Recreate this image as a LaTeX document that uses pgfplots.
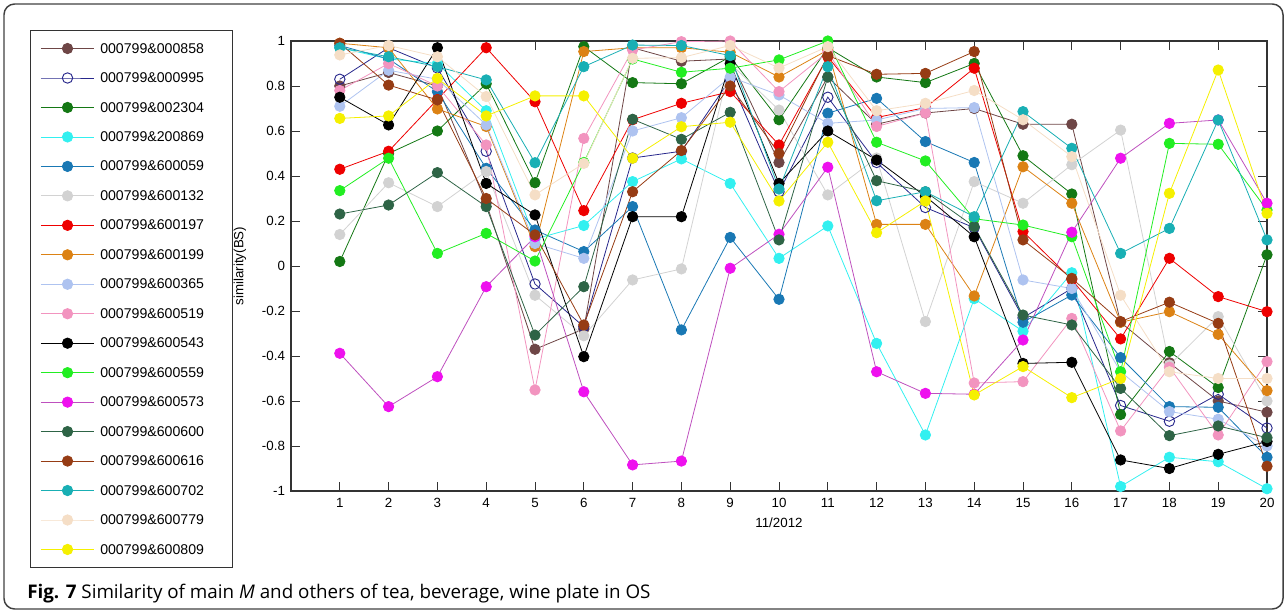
\documentclass[border=0pt]{standalone}
\usepackage{pgfplots}
\pgfplotsset{compat=1.18}
\usepackage{fontspec}
\setmainfont{Liberation Sans}
\newfontfamily\capfont{Open Sans}
\definecolor{c1}{RGB}{110,70,70}
\definecolor{c2}{RGB}{40,40,140}
\definecolor{c3}{RGB}{20,120,20}
\definecolor{c4}{RGB}{50,240,240}
\definecolor{c5}{RGB}{25,120,180}
\definecolor{c6}{RGB}{210,210,210}
\definecolor{c7}{RGB}{238,0,0}
\definecolor{c8}{RGB}{220,130,20}
\definecolor{c9}{RGB}{174,195,240}
\definecolor{c10}{RGB}{242,148,191}
\definecolor{c11}{RGB}{0,0,0}
\definecolor{c12}{RGB}{34,238,34}
\definecolor{c13}{RGB}{238,17,238}
\definecolor{c13l}{RGB}{190,80,190}
\definecolor{c14}{RGB}{46,100,70}
\definecolor{c15}{RGB}{150,60,20}
\definecolor{c16}{RGB}{25,175,180}
\definecolor{c17}{RGB}{245,222,198}
\definecolor{c18}{RGB}{245,240,0}
\begin{document}
\begin{tikzpicture}
\begin{scope}[x=0.75pt,y=0.75pt]
\path (0,0) rectangle (1287,613);
\draw[black!75, line width=1.1pt, rounded corners=8pt] (4,4) rectangle (1283,609);
\node[anchor=base west, inner sep=0pt, font=\capfont\fontsize{14.1}{16}\selectfont] at (27,14) {\textbf{Fig. 7} Similarity of main \textit{M} and others of tea, beverage, wine plate in OS};
\end{scope}
\begin{axis}[at={(218.25pt,91.5pt)}, anchor=south west, scale only axis,
  width=732pt, height=337.5pt,
  xmin=0, xmax=20, ymin=-1, ymax=1,
  xtick={1,...,20},
  ytick={-1,-0.8,-0.6,-0.4,-0.2,0,0.2,0.4,0.6,0.8,1},
  tick align=inside, major tick length=7pt,
  tick style={black!80, line width=0.6pt},
  axis line style={black!80, line width=0.8pt},
  /pgf/number format/assume math mode=true,
  /pgf/number format/fixed,
  ticklabel style={font=\fontsize{10}{12}\selectfont},
  xticklabel style={yshift=-2pt},
  yticklabel style={xshift=-1pt},
  xlabel={11/2012}, ylabel={similarity(BS)},
  label style={font=\fontsize{10}{12}\selectfont},
  xlabel style={at={(axis description cs:0.5,-0.0704)}, anchor=center},
  ylabel style={at={(axis description cs:-0.0523,0.5)}, anchor=center},
  clip=false,
  every axis plot/.append style={line width=0.6pt, mark=*, mark size=3.9pt},
  legend cell align=left,
  legend style={at={(axis description cs:-0.26742,1.02444)}, anchor=north west,
    draw=black!80, line width=0.7pt, inner xsep=0pt, inner ysep=2.5pt,
    font=\fontsize{10.6}{12}\selectfont, row sep=0pt,
    nodes={inner xsep=0pt, inner ysep=0pt, text height=14.5pt, text depth=7.6pt},
    /tikz/every odd column/.append style={column sep=4.25pt}},
  legend image code/.code={\path (0pt,0pt); \draw[#1, line width=0.6pt, mark repeat=2, mark phase=2] plot coordinates {(7.5pt,0pt) (27.5pt,0pt) (47.5pt,0pt)};},
]
\addplot[color=c1, mark options={fill=c1}] coordinates {(1,0.80)(2,0.86)(3,0.80)(4,0.28)(5,-0.37)(6,-0.28)(7,0.97)(8,0.91)(9,0.92)(10,0.46)(11,0.84)(12,0.63)(13,0.68)(14,0.70)(15,0.63)(16,0.63)(17,-0.25)(18,-0.43)(19,-0.60)(20,-0.65)};
\addlegendentry{\makebox[99pt][l]{000799\&000858}}
\addplot[color=c2, mark=o, mark options={line width=0.7pt}] coordinates {(1,0.83)(2,0.97)(3,0.88)(4,0.51)(5,-0.08)(6,-0.27)(7,0.48)(8,0.51)(9,0.83)(10,0.33)(11,0.75)(12,0.46)(13,0.26)(14,0.17)(15,-0.23)(16,-0.10)(17,-0.62)(18,-0.69)(19,-0.57)(20,-0.72)};
\addlegendentry{000799\&000995}
\addplot[color=c3, mark options={fill=c3}] coordinates {(1,0.02)(2,0.50)(3,0.60)(4,0.81)(5,0.37)(6,0.975)(7,0.815)(8,0.81)(9,0.93)(10,0.65)(11,0.97)(12,0.84)(13,0.815)(14,0.90)(15,0.49)(16,0.32)(17,-0.66)(18,-0.38)(19,-0.54)(20,0.05)};
\addlegendentry{000799\&002304}
\addplot[color=c4, mark options={fill=c4}] coordinates {(1,0.97)(2,0.92)(3,0.90)(4,0.69)(5,0.12)(6,0.18)(7,0.375)(8,0.476)(9,0.367)(10,0.034)(11,0.178)(12,-0.344)(13,-0.751)(14,-0.145)(15,-0.29)(16,-0.03)(17,-0.98)(18,-0.85)(19,-0.87)(20,-0.99)};
\addlegendentry{000799\&200869}
\addplot[color=c5, mark options={fill=c5}] coordinates {(1,0.98)(2,0.92)(3,0.775)(4,0.434)(5,0.16)(6,0.064)(7,0.264)(8,-0.284)(9,0.127)(10,-0.148)(11,0.679)(12,0.745)(13,0.553)(14,0.46)(15,-0.25)(16,-0.129)(17,-0.407)(18,-0.625)(19,-0.628)(20,-0.85)};
\addlegendentry{000799\&600059}
\addplot[color=c6, mark options={fill=c6}] coordinates {(1,0.14)(2,0.37)(3,0.264)(4,0.42)(5,-0.13)(6,-0.31)(7,-0.062)(8,-0.013)(9,0.90)(10,0.693)(11,0.316)(12,0.48)(13,-0.247)(14,0.375)(15,0.279)(16,0.45)(17,0.604)(18,-0.44)(19,-0.225)(20,-0.60)};
\addlegendentry{000799\&600132}
\addplot[color=c7, mark options={fill=c7}] coordinates {(1,0.43)(2,0.51)(3,0.74)(4,0.97)(5,0.73)(6,0.246)(7,0.65)(8,0.723)(9,0.775)(10,0.538)(11,0.93)(12,0.66)(13,0.704)(14,0.879)(15,0.153)(16,-0.06)(17,-0.324)(18,0.034)(19,-0.136)(20,-0.203)};
\addlegendentry{000799\&600197}
\addplot[color=c8, mark options={fill=c8}] coordinates {(1,0.99)(2,0.97)(3,0.698)(4,0.62)(5,0.086)(6,0.953)(7,0.97)(8,0.97)(9,0.95)(10,0.84)(11,0.96)(12,0.185)(13,0.185)(14,-0.133)(15,0.441)(16,0.279)(17,-0.25)(18,-0.203)(19,-0.304)(20,-0.554)};
\addlegendentry{000799\&600199}
\addplot[color=c9, mark options={fill=c9}] coordinates {(1,0.71)(2,0.87)(3,0.83)(4,0.627)(5,0.10)(6,0.034)(7,0.60)(8,0.659)(9,0.84)(10,0.76)(11,0.634)(12,0.649)(13,0.70)(14,0.704)(15,-0.062)(16,-0.10)(17,-0.47)(18,-0.647)(19,-0.681)(20,-0.80)};
\addlegendentry{000799\&600365}
\addplot[color=c10, mark options={fill=c10}] coordinates {(1,0.78)(2,0.90)(3,0.80)(4,0.538)(5,-0.551)(6,0.567)(7,0.96)(8,0.997)(9,1.0)(10,0.775)(11,0.95)(12,0.62)(13,0.68)(14,-0.52)(15,-0.514)(16,-0.233)(17,-0.733)(18,-0.45)(19,-0.751)(20,-0.425)};
\addlegendentry{000799\&600519}
\addplot[color=c11, mark options={fill=c11}] coordinates {(1,0.75)(2,0.627)(3,0.97)(4,0.367)(5,0.227)(6,-0.403)(7,0.219)(8,0.219)(9,0.90)(10,0.367)(11,0.60)(12,0.471)(13,0.31)(14,0.13)(15,-0.433)(16,-0.428)(17,-0.862)(18,-0.90)(19,-0.837)(20,-0.78)};
\addlegendentry{000799\&600543}
\addplot[color=c12, mark options={fill=c12}] coordinates {(1,0.335)(2,0.479)(3,0.056)(4,0.145)(5,0.022)(6,0.46)(7,0.92)(8,0.861)(9,0.879)(10,0.916)(11,1.0)(12,0.55)(13,0.467)(14,0.21)(15,0.182)(16,0.13)(17,-0.47)(18,0.545)(19,0.541)(20,0.249)};
\addlegendentry{000799\&600559}
\addplot[color=c13l, mark options={fill=c13, draw=c13}] coordinates {(1,-0.388)(2,-0.625)(3,-0.492)(4,-0.092)(5,0.13)(6,-0.559)(7,-0.884)(8,-0.867)(9,-0.01)(10,0.141)(11,0.439)(12,-0.47)(13,-0.566)(14,-0.57)(15,-0.329)(16,0.15)(17,0.479)(18,0.634)(19,0.649)(20,0.279)};
\addlegendentry{000799\&600573}
\addplot[color=c14, mark options={fill=c14}] coordinates {(1,0.231)(2,0.271)(3,0.415)(4,0.264)(5,-0.307)(6,-0.092)(7,0.652)(8,0.563)(9,0.683)(10,0.116)(11,0.84)(12,0.379)(13,0.33)(14,0.175)(15,-0.218)(16,-0.262)(17,-0.544)(18,-0.754)(19,-0.711)(20,-0.763)};
\addlegendentry{000799\&600600}
\addplot[color=c15, mark options={fill=c15}] coordinates {(1,0.99)(2,0.804)(3,0.738)(4,0.30)(5,0.138)(6,-0.262)(7,0.33)(8,0.513)(9,0.80)(10,0.50)(11,0.935)(12,0.852)(13,0.856)(14,0.953)(15,0.116)(16,-0.055)(17,-0.247)(18,-0.161)(19,-0.255)(20,-0.89)};
\addlegendentry{000799\&600616}
\addplot[color=c16, mark options={fill=c16}] coordinates {(1,0.97)(2,0.93)(3,0.886)(4,0.827)(5,0.459)(6,0.886)(7,0.982)(8,0.98)(9,0.935)(10,0.342)(11,0.886)(12,0.29)(13,0.33)(14,0.219)(15,0.686)(16,0.523)(17,0.056)(18,0.167)(19,0.649)(20,0.116)};
\addlegendentry{000799\&600702}
\addplot[color=c17, mark options={fill=c17}] coordinates {(1,0.938)(2,0.98)(3,0.93)(4,0.753)(5,0.316)(6,0.456)(7,0.923)(8,0.926)(9,0.98)(10,0.88)(11,0.975)(12,0.69)(13,0.723)(14,0.78)(15,0.65)(16,0.486)(17,-0.13)(18,-0.47)(19,-0.5)(20,-0.5)};
\addlegendentry{000799\&600779}
\addplot[color=c18, mark options={fill=c18}] coordinates {(1,0.656)(2,0.667)(3,0.834)(4,0.667)(5,0.756)(6,0.756)(7,0.479)(8,0.619)(9,0.639)(10,0.289)(11,0.55)(12,0.148)(13,0.289)(14,-0.573)(15,-0.447)(16,-0.585)(17,-0.5)(18,0.323)(19,0.871)(20,0.234)};
\addlegendentry{000799\&600809}
\end{axis}
\end{tikzpicture}
\end{document}
